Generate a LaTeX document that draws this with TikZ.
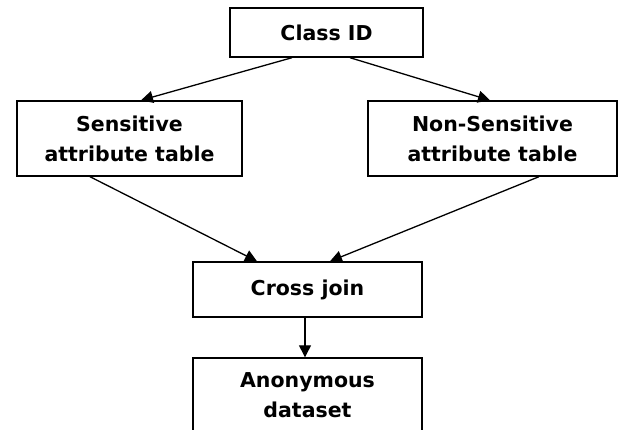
\documentclass[tikz,border=0pt]{standalone}
\usepackage{fontspec}
\setmainfont{DejaVu Sans}
\usetikzlibrary{arrows.meta}
\tikzset{
  box/.style={draw=black, line width=1.4pt, fill=white, inner sep=0pt, align=center,
    font=\fontsize{20.5}{30}\selectfont\bfseries},
  conn/.style={draw=black, line width=1.3pt, -{Triangle[length=12pt,width=12pt]}},
}
\begin{document}
\begin{tikzpicture}[x=1pt,y=-1pt]
\useasboundingbox (0,0) rectangle (619,430);
\clip (0,0) rectangle (619,430);
\fill[white] (0,0) rectangle (619,430);
\node[box, minimum width=193pt, minimum height=49pt] (cid) at (326.5,32.5) {Class ID};
\node[box, minimum width=225pt, minimum height=75pt] (sen) at (129.5,138.5) {Sensitive\\attribute table};
\node[box, minimum width=249pt, minimum height=75pt] (non) at (492.5,138.5) {Non-Sensitive\\attribute table};
\node[box, minimum width=229pt, minimum height=55pt] (cj) at (307.5,289.5) {Cross join};
\node[box, minimum width=229pt, minimum height=75pt] (an) at (307.5,395.5) {Anonymous\\dataset};
\draw[conn] ([xshift=-34.5pt]cid.south) -- ([xshift=11.5pt]sen.north);
\draw[conn] ([xshift=23.5pt]cid.south) -- ([xshift=-2.5pt]non.north);
\draw[conn] ([xshift=-39.5pt]sen.south) -- ([xshift=-50.5pt]cj.north);
\draw[conn] ([xshift=46.5pt]non.south) -- ([xshift=22.5pt]cj.north);
\draw[conn] ([xshift=-2.5pt]cj.south) -- ([xshift=-2.5pt]an.north);
\end{tikzpicture}
\end{document}
